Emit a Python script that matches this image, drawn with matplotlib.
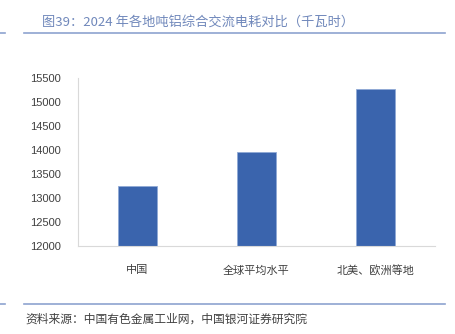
import matplotlib.pyplot as plt
from matplotlib.lines import Line2D

plt.rcParams['font.family'] = ['Noto Sans CJK SC', 'DejaVu Sans']

# Data
regions = ['中国', '全球平均水平', '北美、欧洲等地']
power = [13250, 13960, 15270]
yticks = [12000, 12500, 13000, 13500, 14000, 14500, 15000, 15500]

fig = plt.figure(figsize=(4.56, 3.34), dpi=100)
ax = fig.add_axes([78 / 456, 1 - 246 / 334, 357 / 456, 168 / 334])

ax.bar(regions, power, width=0.32, color='#3a64ad', edgecolor='#8fa9d6', linewidth=0.6)
ax.set_ylim(12000, 15500)
ax.set_yticks(yticks)
ax.set_xlim(-0.5, 2.5)

for s in ['top', 'right']:
    ax.spines[s].set_visible(False)
ax.spines['left'].set_color('#d9d9d9')
ax.spines['bottom'].set_color('#d9d9d9')
ax.tick_params(axis='both', length=0, labelsize=8, colors='#404040')
ax.tick_params(axis='x', pad=14)
ax.tick_params(axis='y', pad=12)
for lbl in ax.get_yticklabels():
    lbl.set_family(['Liberation Sans', 'DejaVu Sans'])

# Header and footer
fig.text(42 / 456, 1 - 22 / 334, '图39：2024 年各地吨铝综合交流电耗对比（千瓦时）',
         fontsize=9.5, color='#7088bb', va='center')
line_color = '#8ea3cf'
for y in [33, 304]:
    fig.add_artist(Line2D([0, 5 / 456], [1 - y / 334] * 2, color=line_color, lw=1.2))
    fig.add_artist(Line2D([24 / 456, 445 / 456], [1 - y / 334] * 2, color=line_color, lw=1.2))
fig.text(25 / 456, 1 - 319 / 334, '资料来源：中国有色金属工业网，中国银河证券研究院',
         fontsize=8.5, color='#404040', style='italic', va='center')

fig.savefig('out.png', dpi=100)
